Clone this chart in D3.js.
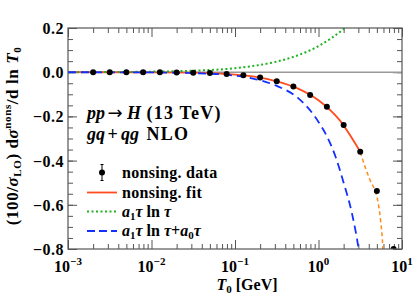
<!DOCTYPE html>
<html>
<head>
<meta charset="utf-8">
<script src="https://cdn.jsdelivr.net/npm/d3@7"></script>
<style>
body { margin: 0; background: #fff; }
text { font-family: "Liberation Serif", serif; font-weight: bold; fill: #000; }
</style>
</head>
<body>
<svg width="415" height="306"></svg>
<script>
// nonsingular data points (T0 in GeV)
var dataT0 = [0.002, 0.00316, 0.005, 0.00794, 0.0126, 0.02, 0.0316, 0.05, 0.0794, 0.126,
              0.2, 0.316, 0.5, 0.794, 1.26, 2.0, 3.16, 5.0, 7.94];
var dataY  = [0.000, 0.000, 0.000, 0.000, 0.000, -0.001, -0.002, -0.004, -0.008, -0.014,
              -0.024, -0.041, -0.065, -0.103, -0.156, -0.239, -0.360, -0.537, -0.800];

// nonsing. fit (solid part and dashed extrapolation)
var fitT0 = [0.001, 0.01, 0.0316, 0.1, 0.178, 0.316, 0.562, 1.0, 1.78, 3.16];
var fitY  = [0.000, -0.0005, -0.002, -0.011, -0.021, -0.041, -0.073, -0.127, -0.216, -0.360];
var extT0 = [3.16, 3.61, 4.14, 5.06, 5.35, 5.56, 5.75, 5.87, 5.92];
var extY  = [-0.360, -0.428, -0.488, -0.571, -0.624, -0.676, -0.729, -0.782, -0.81];

// a1 tau ln tau
var greenT0 = [0.001, 0.00316, 0.01, 0.0316, 0.1, 0.178, 0.316, 0.562, 1.0, 1.41, 2.0, 2.2];
var greenY  = [0.0002, 0.0007, 0.0025, 0.0068, 0.018, 0.030, 0.048, 0.076, 0.118, 0.153, 0.196, 0.21];

// a1 tau ln tau + a0 tau
var blueT0 = [0.001, 0.01, 0.0316, 0.1, 0.178, 0.316, 0.562, 1.0, 1.26, 1.585, 2.0, 2.51, 3.02, 3.1];
var blueY  = [-0.0002, -0.001, -0.004, -0.016, -0.032, -0.062, -0.115, -0.225, -0.29, -0.378, -0.50, -0.637, -0.80, -0.83];

var xMajor = [1e-3, 1e-2, 1e-1, 1e0, 1e1];
var xExp = ["\u22123", "\u22122", "\u22121", "0", "1"];
var yMajor = [0.2, 0.0, -0.2, -0.4, -0.6, -0.8];
var yLabels = ["0.2", "0.0", "\u22120.2", "\u22120.4", "\u22120.6", "\u22120.8"];

var svg = d3.select("svg"),
    width = +svg.attr("width"),
    height = +svg.attr("height");

var pLeft = 68, pRight = 402, pTop = 28, pBottom = 249;

var x = d3.scaleLog().domain([1e-3, 1e1]).range([pLeft, pRight]);
var y = d3.scaleLinear().domain([-0.8, 0.2]).range([pBottom, pTop]);

svg.append("clipPath").attr("id", "clip")
  .append("rect").attr("x", pLeft).attr("y", pTop)
  .attr("width", pRight - pLeft).attr("height", pBottom - pTop);

// minor ticks
var xMinor = [];
[-3, -2, -1, 0].forEach(function(d) {
  for (var k = 2; k <= 9; k++) xMinor.push(k * Math.pow(10, d));
});
var yMinor = d3.range(-0.8, 0.2001, 0.05);

var axisColor = "#555";
function styleAxis(g) {
  g.select(".domain").remove();
  g.selectAll(".tick line").attr("stroke", axisColor).attr("stroke-width", 1);
  g.selectAll(".tick text").remove();
}

svg.append("g").attr("transform", "translate(0," + pBottom + ")")
  .call(d3.axisBottom(x).tickValues(xMajor).tickSize(-9)).call(styleAxis);
svg.append("g").attr("transform", "translate(0," + pBottom + ")")
  .call(d3.axisBottom(x).tickValues(xMinor).tickSize(-5)).call(styleAxis);
svg.append("g").attr("transform", "translate(0," + pTop + ")")
  .call(d3.axisTop(x).tickValues(xMajor).tickSize(-9)).call(styleAxis);
svg.append("g").attr("transform", "translate(0," + pTop + ")")
  .call(d3.axisTop(x).tickValues(xMinor).tickSize(-5)).call(styleAxis);
svg.append("g").attr("transform", "translate(" + pLeft + ",0)")
  .call(d3.axisLeft(y).tickValues(yMajor).tickSize(-9)).call(styleAxis);
svg.append("g").attr("transform", "translate(" + pLeft + ",0)")
  .call(d3.axisLeft(y).tickValues(yMinor).tickSize(-5)).call(styleAxis);
svg.append("g").attr("transform", "translate(" + pRight + ",0)")
  .call(d3.axisRight(y).tickValues(yMajor).tickSize(-9)).call(styleAxis);
svg.append("g").attr("transform", "translate(" + pRight + ",0)")
  .call(d3.axisRight(y).tickValues(yMinor).tickSize(-5)).call(styleAxis);

// zero line
svg.append("line")
  .attr("x1", pLeft).attr("x2", pRight)
  .attr("y1", y(0)).attr("y2", y(0))
  .attr("stroke", "#999").attr("stroke-width", 1.4);

var line = d3.line()
  .x(function(d) { return x(d[0]); })
  .y(function(d) { return y(d[1]); })
  .curve(d3.curveMonotoneX);

var plot = svg.append("g").attr("clip-path", "url(#clip)");

plot.append("path")
  .datum(d3.zip(fitT0, fitY))
  .attr("d", line).attr("fill", "none")
  .attr("stroke", "#ff4d1f").attr("stroke-width", 1.8);

plot.append("path")
  .datum(d3.zip(extT0, extY))
  .attr("d", line).attr("fill", "none")
  .attr("stroke", "#ff8c1a").attr("stroke-width", 1.5)
  .attr("stroke-dasharray", "4,3");

plot.append("path")
  .datum(d3.zip(greenT0, greenY))
  .attr("d", line).attr("fill", "none")
  .attr("stroke", "#1fb31f").attr("stroke-width", 2)
  .attr("stroke-dasharray", "2,2.5");

plot.append("path")
  .datum(d3.zip(blueT0, blueY))
  .attr("d", line).attr("fill", "none")
  .attr("stroke", "#1430ff").attr("stroke-width", 1.8)
  .attr("stroke-dasharray", "8,5");

plot.selectAll("circle.pt")
  .data(d3.zip(dataT0, dataY))
  .enter().append("circle")
  .attr("class", "pt")
  .attr("cx", function(d) { return x(d[0]); })
  .attr("cy", function(d) { return y(d[1]); })
  .attr("r", 3)
  .attr("fill", "#000");

// frame
svg.append("rect")
  .attr("x", pLeft).attr("y", pTop)
  .attr("width", pRight - pLeft).attr("height", pBottom - pTop)
  .attr("fill", "none").attr("stroke", axisColor).attr("stroke-width", 1.2);

// tick labels
var xl = svg.append("g").selectAll("text")
  .data(xMajor).enter().append("text")
  .attr("x", function(d) { return x(d); })
  .attr("y", 271.5)
  .attr("text-anchor", "middle")
  .style("font-size", "16px");
xl.append("tspan").text("10");
xl.append("tspan").attr("dy", -7).style("font-size", "11px")
  .text(function(d, i) { return xExp[i]; });

svg.append("g").selectAll("text")
  .data(yMajor).enter().append("text")
  .attr("x", 64)
  .attr("y", function(d) { return y(d) + 6; })
  .attr("text-anchor", "end")
  .style("font-size", "16px")
  .style("letter-spacing", "0.5px")
  .text(function(d, i) { return yLabels[i]; });

// axis titles
var xt = svg.append("text")
  .attr("x", 247).attr("y", 290)
  .attr("text-anchor", "middle")
  .style("font-size", "16px");
xt.append("tspan").style("font-style", "italic").text("T");
xt.append("tspan").attr("dy", 3).style("font-size", "11px").text("0");
xt.append("tspan").attr("dy", -3).text("  [GeV]");

var yt = svg.append("text")
  .attr("transform", "translate(18,136) rotate(-90)")
  .attr("text-anchor", "middle")
  .style("font-size", "17px")
  .style("letter-spacing", "0.6px");
yt.append("tspan").text("(100/");
yt.append("tspan").style("font-style", "italic").text("\u03c3");
yt.append("tspan").attr("dy", 3).style("font-size", "11px").text("LO");
yt.append("tspan").attr("dy", -3).text(")  d");
yt.append("tspan").style("font-style", "italic").text("\u03c3");
yt.append("tspan").attr("dy", -7).style("font-size", "11px").text("nons");
yt.append("tspan").attr("dy", 7).text("/d ln ");
yt.append("tspan").style("font-style", "italic").text("T");
yt.append("tspan").attr("dy", 3).style("font-size", "11px").text("0");

// process annotation
var a1 = svg.append("text").attr("y", 119).style("font-size", "18px");
a1.append("tspan").attr("x", 87).style("font-style", "italic").text("pp");
a1.append("tspan").attr("x", 107.5).style("font-family", "DejaVu Sans").style("font-weight", "normal")
  .style("font-size", "18px").text("\u2192");
a1.append("tspan").attr("x", 127).style("font-style", "italic").text("H");
a1.append("tspan").attr("x", 146.5).style("letter-spacing", "1.2px").text("(13 TeV)");

var a2 = svg.append("text").attr("y", 140).style("font-size", "18px");
a2.append("tspan").attr("x", 87).style("font-style", "italic").text("gq");
a2.append("tspan").attr("x", 107.5).text("+");
a2.append("tspan").attr("x", 121).style("font-style", "italic").text("qg");
a2.append("tspan").attr("x", 146.5).style("letter-spacing", "1.2px").text("NLO");

// legend
var lx0 = 87, lx1 = 117, tx = 122;
var rows = [172.5, 192.5, 211.5, 231];
var lg = svg.append("g");

lg.append("line").attr("x1", 102).attr("x2", 102).attr("y1", rows[0] - 8).attr("y2", rows[0] + 8)
  .attr("stroke", "#000").attr("stroke-width", 1);
lg.append("line").attr("x1", 100.5).attr("x2", 103.5).attr("y1", rows[0] - 8).attr("y2", rows[0] - 8)
  .attr("stroke", "#000").attr("stroke-width", 1);
lg.append("line").attr("x1", 100.5).attr("x2", 103.5).attr("y1", rows[0] + 8).attr("y2", rows[0] + 8)
  .attr("stroke", "#000").attr("stroke-width", 1);
lg.append("circle").attr("cx", 102).attr("cy", rows[0]).attr("r", 3).attr("fill", "#000");

lg.append("line").attr("x1", lx0).attr("x2", lx1).attr("y1", rows[1]).attr("y2", rows[1])
  .attr("stroke", "#ff4d1f").attr("stroke-width", 1.8);
lg.append("line").attr("x1", lx0).attr("x2", lx1).attr("y1", rows[2]).attr("y2", rows[2])
  .attr("stroke", "#1fb31f").attr("stroke-width", 2).attr("stroke-dasharray", "2,2.5");
lg.append("line").attr("x1", lx0).attr("x2", lx1).attr("y1", rows[3]).attr("y2", rows[3])
  .attr("stroke", "#1430ff").attr("stroke-width", 1.8).attr("stroke-dasharray", "8,4");

lg.append("text").attr("x", tx).attr("y", rows[0] + 5).style("font-size", "16px")
  .style("letter-spacing", "0.3px").text("nonsing. data");
lg.append("text").attr("x", tx).attr("y", rows[1] + 5).style("font-size", "16px")
  .style("letter-spacing", "0.3px").text("nonsing. fit");

var g1 = lg.append("text").attr("x", tx).attr("y", rows[2] + 5).style("font-size", "16px");
g1.append("tspan").style("font-style", "italic").text("a");
g1.append("tspan").attr("dy", 3).style("font-size", "11px").text("1");
g1.append("tspan").attr("dy", -3).style("font-style", "italic").text("\u03c4");
g1.append("tspan").text(" ln ");
g1.append("tspan").style("font-style", "italic").text("\u03c4");

var g2 = lg.append("text").attr("x", tx).attr("y", rows[3] + 5).style("font-size", "16px");
g2.append("tspan").style("font-style", "italic").text("a");
g2.append("tspan").attr("dy", 3).style("font-size", "11px").text("1");
g2.append("tspan").attr("dy", -3).style("font-style", "italic").text("\u03c4");
g2.append("tspan").text(" ln ");
g2.append("tspan").style("font-style", "italic").text("\u03c4");
g2.append("tspan").text("+");
g2.append("tspan").style("font-style", "italic").text("a");
g2.append("tspan").attr("dy", 3).style("font-size", "11px").text("0");
g2.append("tspan").attr("dy", -3).style("font-style", "italic").text("\u03c4");
</script>
</body>
</html>
